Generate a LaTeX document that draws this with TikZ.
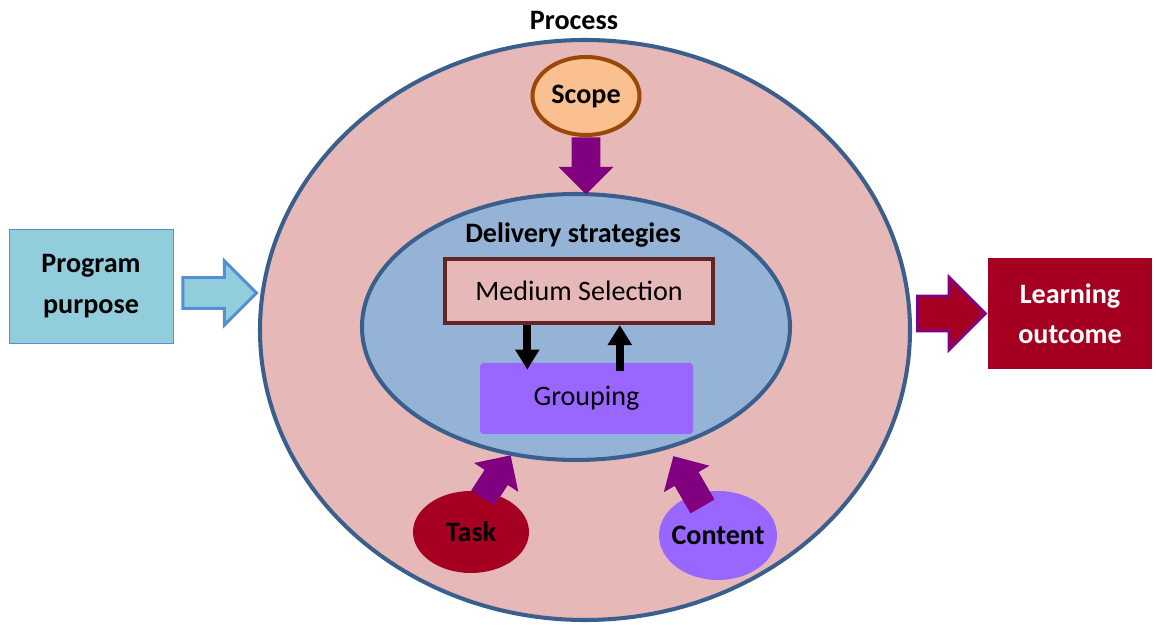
\documentclass[tikz,border=0pt]{standalone}
\usepackage{fontspec}
\setmainfont{Carlito}
\usetikzlibrary{shapes.geometric,shapes.arrows,arrows.meta,calc}

\definecolor{pinkfill}{HTML}{E6B9B8}
\definecolor{ringblue}{HTML}{3A5F8C}
\definecolor{innerblue}{HTML}{95B3D7}
\definecolor{boxbrown}{HTML}{632523}
\definecolor{groupviolet}{HTML}{9966FF}
\definecolor{scopefill}{HTML}{FAC090}
\definecolor{scopebrown}{HTML}{984807}
\definecolor{progfill}{HTML}{92CDDC}
\definecolor{progblue}{HTML}{558ED5}
\definecolor{learnred}{HTML}{A50021}
\definecolor{arrowpurple}{HTML}{800080}

% block arrow between two points: style, name, from, to
\newcommand{\blockarrow}[4]{%
  \path let \p1=($(#4)-(#3)$), \n1={veclen(\x1,\y1)} in
    (#3) -- (#4) node[#1, pos=0, anchor=tail, sloped, allow upside down, minimum height=\n1] (#2) {};}

\begin{document}
\begin{tikzpicture}[
    every node/.style={font=\fontsize{16}{19}\selectfont},
    boldtext/.style={font=\fontsize{16}{23}\selectfont\bfseries, align=center},
    ring/.style={ellipse, draw=ringblue, line width=2.3pt, inner sep=0pt},
    blockbase/.style={single arrow, inner xsep=0pt, minimum width=0pt},
    purplearrow/.style={blockbase, fill=arrowpurple, inner ysep=0.27cm, single arrow head extend=0.25cm},
    blkarrow/.style={line width=0.16cm, -{Triangle[width=0.46cm,length=0.4cm]}}
  ]
  \useasboundingbox (0,0) rectangle (23.12,12.5);

  \node[ring, fill=pinkfill, minimum width=13cm, minimum height=11.6cm] (outer) at (11.7,5.9) {};
  \node[boldtext] (process) at (11.48,12.1) {Process};

  \node[ring, fill=innerblue, minimum width=8.56cm, minimum height=5.32cm] (inner) at (11.52,5.96) {};
  \node[boldtext] (delivery) at (11.46,7.8) {Delivery strategies};

  \node[draw=boxbrown, line width=2.3pt, fill=pinkfill, minimum width=5.36cm, minimum height=1.28cm] (medium) at (11.58,6.68) {Medium Selection};
  \node[fill=groupviolet, rounded corners=2pt, minimum width=4.26cm, minimum height=1.42cm] (grouping) at (11.73,4.53) {Grouping};

  \coordinate (downtop) at ($(medium.south west)!0.31!(medium.south east)$);
  \coordinate (upfoot) at ($(medium.south west)!0.65!(medium.south east)$);
  \draw[blkarrow, shorten >=-0.14cm] (downtop) -- (downtop |- grouping.north);
  \draw[blkarrow, shorten <=-0.16cm] (upfoot |- grouping.north) -- (upfoot);

  \node[ring, draw=scopebrown, fill=scopefill, boldtext, minimum width=2.14cm, minimum height=1.56cm] (scope) at (11.72,10.58) {Scope};
  \coordinate (scopetip) at ($(scope.south |- inner.north)+(0,-0.04)$);
  \blockarrow{purplearrow, inner ysep=0.28cm, single arrow head extend=0.26cm}{scopearr}{scope.south}{scopetip}

  \node[draw=progblue, fill=progfill, boldtext, minimum width=3.28cm, minimum height=2.28cm] (program) at (1.82,6.78) {Program\\purpose};
  \coordinate (progtail) at ($(program.east)+(0.16,-0.14)$);
  \coordinate (progtip) at ($(progtail -| outer.west)+(-0.06,0)$);
  \blockarrow{blockbase, draw=progblue, line width=1.7pt, fill=progfill, inner ysep=0.28cm, single arrow head extend=0.33cm}{progarr}{progtail}{progtip}

  \node[fill=learnred, text=white, boldtext, minimum width=3.28cm, minimum height=2.22cm] (learning) at (21.4,6.23) {Learning\\outcome};
  \coordinate (learntip) at ($(learning.west)+(-0.08,0)$);
  \coordinate (learntail) at ($(learntip -| outer.east)+(0.08,0)$);
  \blockarrow{blockbase, draw=arrowpurple, line width=1.7pt, fill=learnred, inner ysep=0.32cm, single arrow head extend=0.37cm}{learnarr}{learntail}{learntip}

  \node[ellipse, inner sep=0pt, fill=learnred, boldtext, minimum width=2.32cm, minimum height=1.64cm] (task) at (9.42,1.86) {\makebox[0pt]{Task}};
  \node[ellipse, inner sep=0pt, fill=groupviolet, boldtext, minimum width=2.36cm, minimum height=1.78cm] (content) at (14.36,1.79) {\makebox[0pt]{Content}};

  \coordinate (tasktail) at ($(task.center)!0.84!(task.71)$);
  \coordinate (tasktip) at (inner.243);
  \blockarrow{purplearrow}{taskarr}{tasktail}{tasktip}

  \coordinate (conttail) at ($(content.center)!0.69!(content.118)$);
  \coordinate (conttip) at ($(inner.center)!1.06!(inner.307)$);
  \blockarrow{purplearrow}{contarr}{conttail}{conttip}
\end{tikzpicture}
\end{document}
